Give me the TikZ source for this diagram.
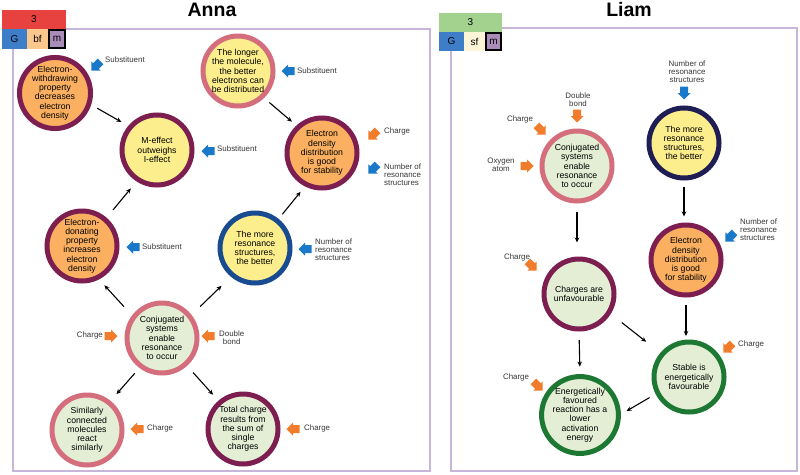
\documentclass[tikz,border=0pt]{standalone}
\usepackage{fontspec}
\setmainfont{Liberation Sans}
\usetikzlibrary{arrows.meta}
\definecolor{corange}{RGB}{250,176,96}
\definecolor{cyellow}{RGB}{252,238,140}
\definecolor{cgreen}{RGB}{227,238,213}
\definecolor{cmaroon}{RGB}{125,30,80}
\definecolor{cpink}{RGB}{212,110,125}
\definecolor{cnavy}{RGB}{25,75,145}
\definecolor{cdnavy}{RGB}{30,30,85}
\definecolor{cdgreen}{RGB}{28,120,50}
\definecolor{cblue}{RGB}{25,120,200}
\definecolor{corr}{RGB}{240,124,44}
\definecolor{cframe}{RGB}{200,182,218}
\definecolor{labgray}{RGB}{55,55,55}
\definecolor{hred}{RGB}{232,66,64}
\definecolor{hgreen}{RGB}{162,210,142}
\definecolor{hblue}{RGB}{62,125,200}
\definecolor{hbf}{RGB}{250,200,140}
\definecolor{hsf}{RGB}{253,245,215}
\definecolor{hm}{RGB}{170,140,185}
\begin{document}
\begin{tikzpicture}[x=1pt,y=-1pt,
  circ/.style={circle, minimum size=70pt, line width=5pt, inner sep=0pt, align=center,
    font=\fontsize{8.7}{9.2}\selectfont, text=black},
  lab/.style={font=\fontsize{7.9}{8}\selectfont, text=labgray, inner sep=0pt, align=left},
  labc/.style={lab, align=center},
  conn/.style={-{Stealth[length=5pt,width=4.5pt]}, line width=1.1pt, black},
  frame/.style={draw=cframe, line width=2pt},
  hdr/.style={anchor=north west, inner sep=0pt, outer sep=0pt, font=\fontsize{10}{12}\selectfont},
  title/.style={font=\bfseries\fontsize{19.5}{22}\selectfont, inner sep=0pt},
  fat/.pic={\fill[#1] (-6.5,-4) -- (0,-4) -- (0,-6.5) -- (6.5,0) -- (0,6.5) -- (0,4) -- (-6.5,4) -- cycle;}
]
\useasboundingbox[fill=white] (0,0) rectangle (800,474);

% frames
\draw[frame] (13,29) rectangle (430,471);
\draw[frame] (451,28) rectangle (797,471);

% headers Anna
\node[hdr, fill=hred, minimum width=64pt, minimum height=19pt] (ha) at (2,10) {3};
\node[hdr, fill=hblue, minimum width=25pt, minimum height=20pt] (hag) at (2,29) {G};
\node[hdr, fill=hbf, minimum width=21pt, minimum height=20pt] (habf) at (27,29) {bf};
\node[hdr, fill=hm, draw=black, line width=2pt, minimum width=16pt, minimum height=18pt] (ham) at (49,30) {m};
% headers Liam
\node[hdr, fill=hgreen, minimum width=63pt, minimum height=19pt] (hl) at (439,13) {3};
\node[hdr, fill=hblue, minimum width=25pt, minimum height=19pt] (hlg) at (439,32) {G};
\node[hdr, fill=hsf, minimum width=21pt, minimum height=19pt] (hlsf) at (464,32) {sf};
\node[hdr, fill=hm, draw=black, line width=2pt, minimum width=15pt, minimum height=17pt] (hlm) at (486,33) {m};

% titles
\node[title] (tanna) at (212,10) {Anna};
\node[title] (tliam) at (629,10) {Liam};

% Anna nodes
\node[circ, fill=corange, draw=cmaroon] (A1) at (55,93) {Electron-\\withdrawing\\property\\decreases\\electron\\density};
\node[circ, fill=cyellow, draw=cmaroon] (A2) at (157,150) {M-effect\\outweighs\\I-effect};
\node[circ, fill=corange, draw=cmaroon] (A3) at (82,246) {Electron-\\donating\\property\\increases\\electron\\density};
\node[circ, fill=cyellow, draw=cpink] (A4) at (238,71) {The longer\\the molecule,\\the better\\electrons can\\be distributed};
\node[circ, fill=corange, draw=cmaroon] (A5) at (322,153) {Electron\\density\\distribution\\is good\\for stability};
\node[circ, fill=cyellow, draw=cnavy] (A6) at (255,248) {The more\\resonance\\structures,\\the better};
\node[circ, fill=cgreen, draw=cpink] (A7) at (162,338) {Conjugated\\systems\\enable\\resonance\\to occur};
\node[circ, fill=cgreen, draw=cpink] (A8) at (87,430) {Similarly\\connected\\molecules\\react\\similarly};
\node[circ, fill=cgreen, draw=cmaroon] (A9) at (243,429) {Total charge\\results from\\the sum of\\single\\charges};

% Liam nodes
\node[circ, fill=cgreen, draw=cpink] (L1) at (577,166) {Conjugated\\systems\\enable\\resonance\\to occur};
\node[circ, fill=cgreen, draw=cmaroon] (L2) at (579,294) {Charges are\\unfavourable};
\node[circ, fill=cyellow, draw=cdnavy] (L3) at (684,143) {The more\\resonance\\structures,\\the better};
\node[circ, fill=corange, draw=cmaroon] (L4) at (686,260) {Electron\\density\\distribution\\is good\\for stability};
\node[circ, fill=cgreen, draw=cdgreen] (L5) at (689,377) {Stable is\\energetically\\favourable};
\node[circ, fill=cgreen, draw=cdgreen] (L6) at (580,415) {Energetically\\favoured\\reaction has a\\lower\\activation\\energy};

% Anna connectors
\draw[conn, shorten <=7pt, shorten >=8pt] (A1.-18) -- (A2.140);
\draw[conn, shorten <=10pt, shorten >=9pt] (A3.49) -- (A2.237);
\draw[conn, shorten <=12pt, shorten >=8pt] (A7.143) -- (A3.-63);
\draw[conn, shorten <=12pt, shorten >=13pt] (A7.38) -- (A6.230);
\draw[conn, shorten <=6pt, shorten >=7pt] (A6.51) -- (A5.243);
\draw[conn, shorten <=7pt, shorten >=6pt] (A4.-46) -- (A5.133);
\draw[conn, shorten <=7pt, shorten >=9pt] (A7.233) -- (A8.51);
\draw[conn, shorten <=9pt, shorten >=8pt] (A7.-48) -- (A9.131);

% Liam connectors
\draw[conn, shorten <=8pt, shorten >=14pt] (L1.south) -- (L1.south |- L2.north);
\draw[conn, shorten <=6pt, shorten >=6pt] (L3.south) -- (L3.south |- L4.north);
\draw[conn, shorten <=7pt, shorten >=3.5pt] (L4.south) -- (L4.south |- L5.north);
\draw[conn, shorten <=8.5pt, shorten >=7.5pt] (L2.south) -- (L6.north);
\draw[conn, shorten <=14pt, shorten >=18pt] (L2.-32) -- (L5.140);
\draw[conn, shorten <=7pt, shorten >=6.5pt] (L5.207) -- (L6.1);

% Anna influence arrows and labels
\pic (b1) [rotate=225] at (96,66) {fat=cblue};
\node[lab, anchor=west] (t1) at (105,60) {Substituent};
\pic (b2) [rotate=180] at (288,71) {fat=cblue};
\node[lab, anchor=west] (t2) at (297,71) {Substituent};
\pic (b3) [rotate=180] at (208,151) {fat=cblue};
\node[lab, anchor=west] (t3) at (217,149) {Substituent};
\pic (b4) [rotate=180] at (133,247) {fat=cblue};
\node[lab, anchor=west] (t4) at (142,247) {Substituent};
\pic (b5) [rotate=225] at (373,135) {fat=corr};
\node[lab, anchor=west] (t5) at (384,131) {Charge};
\pic (b6) [rotate=225] at (373,169) {fat=cblue};
\node[lab, anchor=west] (t6) at (384,175) {Number of\\resonance\\structures};
\pic (b7) [rotate=180] at (305,249) {fat=cblue};
\node[lab, anchor=west] (t7) at (315,250) {Number of\\resonance\\structures};
\pic (b8) [rotate=0] at (111,336) {fat=corr};
\node[lab, anchor=east] (t8) at (103,335) {Charge};
\pic (b9) [rotate=180] at (208,336) {fat=corr};
\node[labc, anchor=west] (t9) at (219,338) {Double\\bond};
\pic (b10) [rotate=180] at (137,429) {fat=corr};
\node[lab, anchor=west] (t10) at (147,428) {Charge};
\pic (b11) [rotate=180] at (293,429) {fat=corr};
\node[lab, anchor=west] (t11) at (304,428) {Charge};

% Liam influence arrows and labels
\pic (c1) [rotate=-90] at (577,116) {fat=corr};
\node[labc] (u1) at (578,100) {Double\\bond};
\pic (c2) [rotate=-45] at (541,130) {fat=corr};
\node[labc] (u2) at (520,119) {Charge};
\pic (c3) [rotate=0] at (527,166) {fat=corr};
\node[labc] (u3) at (501,165) {Oxygen\\atom};
\pic (c4) [rotate=-45] at (532,266) {fat=corr};
\node[labc] (u4) at (517,257) {Charge};
\pic (c5) [rotate=-90] at (684,93) {fat=cblue};
\node[labc] (u5) at (687,72) {Number of\\resonance\\structures};
\pic (c6) [rotate=225] at (730,237) {fat=cblue};
\node[lab, anchor=west] (u6) at (740,230) {Number of\\resonance\\structures};
\pic (c7) [rotate=225] at (728,348) {fat=corr};
\node[lab, anchor=west] (u7) at (738,344) {Charge};
\pic (c8) [rotate=-45] at (538,386) {fat=corr};
\node[labc] (u8) at (516,377) {Charge};
\end{tikzpicture}
\end{document}
